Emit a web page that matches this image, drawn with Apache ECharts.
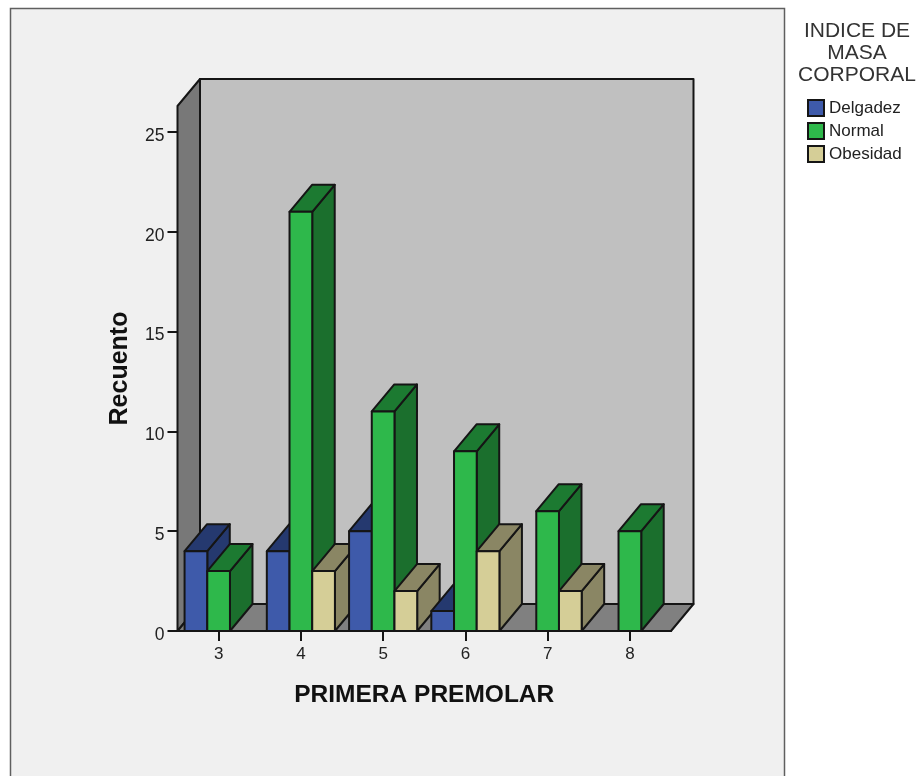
<!DOCTYPE html>
<html>
<head>
<meta charset="utf-8">
<title>Recuento</title>
<style>html,body{margin:0;padding:0;background:#fff}</style>
<script src="https://cdn.jsdelivr.net/npm/echarts@6/dist/echarts.min.js"></script>
</head>
<body>
<div id="chart" style="width:920px;height:776px"></div>
<script>
var categories = ['3', '4', '5', '6', '7', '8'];
var delgadez = [4, 4, 5, 1, null, null];
var normal = [3, 21, 11, 9, 6, 5];
var obesidad = [null, 3, 2, 4, 2, null];
var yTicks = [0, 5, 10, 15, 20, 25];
var yTop = 26.3;

var FONT = '"Liberation Sans", Arial, sans-serif';
var OUTLINE = '#151515';
var DX = 22.5, DY = -27;

// barra en 3D: frente, tapa y lateral
function renderBar(slot, colors) {
    return function (params, api) {
        var idx = api.value(0);
        var band = api.size([1, 0])[0];
        var w = band * 0.276;
        var base = api.coord([idx, 0]);
        var top = api.coord([idx, api.value(1)]);
        var x0 = base[0] + (slot - 0.5) * w;
        var x1 = x0 + w;
        var y0 = base[1], y1 = top[1];
        var z = idx * 10 + slot + 1;
        function poly(points, fill) {
            return {
                type: 'polygon', z2: z,
                shape: { points: points },
                style: { fill: fill, stroke: OUTLINE, lineWidth: 2, lineJoin: 'round' }
            };
        }
        return {
            type: 'group',
            children: [
                poly([[x1, y0], [x1, y1], [x1 + DX, y1 + DY], [x1 + DX, y0 + DY]], colors.side),
                poly([[x0, y1], [x1, y1], [x1 + DX, y1 + DY], [x0 + DX, y1 + DY]], colors.top),
                poly([[x0, y0], [x1, y0], [x1, y1], [x0, y1]], colors.front)
            ]
        };
    };
}

// paredes y suelo
function renderWalls(params, api) {
    var band = api.size([1, 0])[0];
    var a = api.coord([0, 0]);
    var b = api.coord([categories.length - 1, yTop]);
    var xl = a[0] - band / 2, xr = b[0] + band / 2;
    var yb = a[1], yt = b[1];
    function poly(points, fill) {
        return {
            type: 'polygon', z2: 0,
            shape: { points: points },
            style: { fill: fill, stroke: OUTLINE, lineWidth: 2, lineJoin: 'round' }
        };
    }
    return {
        type: 'group',
        children: [
            poly([[xl + DX, yt + DY], [xr + DX, yt + DY], [xr + DX, yb + DY], [xl + DX, yb + DY]], '#c0c0c0'),
            poly([[xl, yb], [xl, yt], [xl + DX, yt + DY], [xl + DX, yb + DY]], '#787878'),
            poly([[xl, yb], [xr, yb], [xr + DX, yb + DY], [xl + DX, yb + DY]], '#808080')
        ]
    };
}

function toPoints(values) {
    var rs = [];
    for (var i = 0; i < values.length; i++) {
        if (values[i] !== null) rs.push([i, values[i]]);
    }
    return rs;
}

function barSeries(name, values, slot, colors) {
    return {
        name: name,
        type: 'custom',
        renderItem: renderBar(slot, colors),
        encode: { x: 0, y: 1 },
        data: toPoints(values),
        itemStyle: { color: colors.front, borderColor: OUTLINE, borderWidth: 1.5 },
        z: 3
    };
}

var myChart = echarts.init(document.getElementById('chart'), null, { renderer: 'canvas' });
myChart.setOption({
    animation: false,
    backgroundColor: '#ffffff',
    textStyle: { fontFamily: FONT },
    graphic: [{
        type: 'rect', z: -10,
        shape: { x: 10.5, y: 8.5, width: 774, height: 800 },
        style: { fill: '#f0f0f0', stroke: '#5f5f5f', lineWidth: 1.5 }
    }],
    title: {
        text: 'INDICE DE\nMASA\nCORPORAL',
        left: 857, top: 20, textAlign: 'center', padding: 0,
        textStyle: { fontFamily: FONT, fontWeight: 'normal', fontSize: 21, lineHeight: 22, color: '#333333' }
    },
    legend: {
        data: ['Delgadez', 'Normal', 'Obesidad'],
        orient: 'vertical', left: 807, top: 99, padding: 0,
        itemWidth: 16, itemHeight: 16, itemGap: 5, icon: 'rect',
        textStyle: { fontFamily: FONT, fontSize: 17, lineHeight: 16, color: '#222222' }
    },
    grid: { left: 177.5, right: 249, top: 106, bottom: 145, containLabel: false },
    xAxis: {
        type: 'category',
        data: categories,
        name: 'PRIMERA PREMOLAR',
        nameLocation: 'middle',
        nameGap: 52,
        nameTextStyle: { fontFamily: FONT, fontWeight: 'bold', fontSize: 24.5, color: '#111111' },
        axisLine: { show: true, lineStyle: { color: OUTLINE, width: 2 } },
        axisTick: { show: true, alignWithLabel: true, length: 10, lineStyle: { color: OUTLINE, width: 2 } },
        axisLabel: { margin: 15, fontFamily: FONT, fontSize: 17, color: '#222222' },
        splitLine: { show: false }
    },
    yAxis: {
        type: 'value',
        min: 0,
        max: yTop,
        name: 'Recuento',
        nameLocation: 'middle',
        nameGap: 45,
        nameRotate: 90,
        nameTextStyle: { fontFamily: FONT, fontWeight: 'bold', fontSize: 25, color: '#111111' },
        axisLine: { show: true, lineStyle: { color: OUTLINE, width: 2 } },
        axisTick: { show: true, length: 10, customValues: yTicks, lineStyle: { color: OUTLINE, width: 2 } },
        axisLabel: { margin: 13, verticalAlign: 'top', lineHeight: 8, customValues: yTicks, fontFamily: FONT, fontSize: 17.5, color: '#222222' },
        splitLine: { show: false }
    },
    series: [
        {
            type: 'custom', name: 'paredes', silent: true, z: 1,
            renderItem: renderWalls, encode: { x: 0, y: 1 }, data: [[0, 0]]
        },
        barSeries('Delgadez', delgadez, -1, { front: '#3e5aaa', top: '#25396f', side: '#25396f' }),
        barSeries('Normal', normal, 0, { front: '#2eb84b', top: '#1c7a31', side: '#1b6f2d' }),
        barSeries('Obesidad', obesidad, 1, { front: '#d5ce97', top: '#8a8664', side: '#8a8664' })
    ]
});
</script>
</body>
</html>
